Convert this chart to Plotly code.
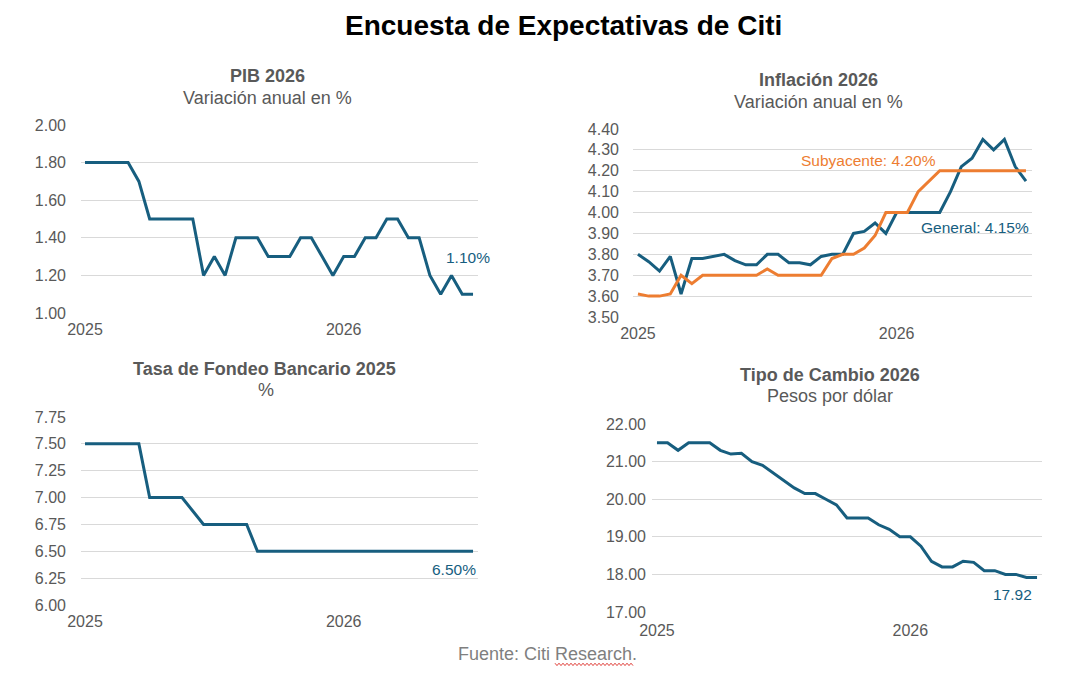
import plotly.graph_objects as go

W, H = 1081, 676

# ---------------- data (biweekly surveys, index 0 = first survey of 2025) ----------------
x_idx = list(range(37))
x_tickvals = [0, 24]
x_ticktext = ["2025", "2026"]

pib = [1.8, 1.8, 1.8, 1.8, 1.8, 1.7, 1.5, 1.5, 1.5, 1.5, 1.5, 1.2, 1.3, 1.2, 1.4, 1.4,
       1.4, 1.3, 1.3, 1.3, 1.4, 1.4, 1.3, 1.2, 1.3, 1.3, 1.4, 1.4, 1.5, 1.5, 1.4, 1.4,
       1.2, 1.1, 1.2, 1.1, 1.1]

infl_general = [3.80, 3.765, 3.72, 3.79, 3.61, 3.78, 3.78, 3.79, 3.80, 3.77, 3.75, 3.75,
                3.80, 3.80, 3.76, 3.76, 3.75, 3.79, 3.80, 3.80, 3.90, 3.91, 3.95, 3.90,
                4.00, 4.00, 4.00, 4.00, 4.00, 4.10, 4.22, 4.26, 4.35, 4.30, 4.35, 4.22, 4.15]

infl_subyacente = [3.61, 3.60, 3.60, 3.61, 3.70, 3.66, 3.70, 3.70, 3.70, 3.70, 3.70, 3.70,
                   3.73, 3.70, 3.70, 3.70, 3.70, 3.70, 3.78, 3.80, 3.80, 3.83, 3.89, 4.00,
                   4.00, 4.00, 4.10, 4.15, 4.20, 4.20, 4.20, 4.20, 4.20, 4.20, 4.20, 4.20, 4.20]

fondeo = [7.50, 7.50, 7.50, 7.50, 7.50, 7.50, 7.00, 7.00, 7.00, 7.00, 6.875, 6.75, 6.75,
          6.75, 6.75, 6.75, 6.50, 6.50, 6.50, 6.50, 6.50, 6.50, 6.50, 6.50, 6.50, 6.50,
          6.50, 6.50, 6.50, 6.50, 6.50, 6.50, 6.50, 6.50, 6.50, 6.50, 6.50]

tipo_cambio = [21.50, 21.50, 21.30, 21.50, 21.50, 21.50, 21.30, 21.20, 21.22, 21.00, 20.90,
               20.70, 20.50, 20.30, 20.15, 20.15, 20.00, 19.85, 19.50, 19.50, 19.50, 19.32,
               19.20, 19.00, 19.00, 18.75, 18.35, 18.20, 18.20, 18.35, 18.32, 18.10, 18.10,
               18.00, 18.00, 17.92, 17.92]

# ---------------- styling ----------------
BLUE = "#175E7F"
ORANGE = "#ED7D31"
GRAY_TXT = "#595959"
GRID = "#D9D9D9"
FONT = "Liberation Sans, Arial, sans-serif"


def px_x(p):
    return p / W


def px_y(p):
    return 1 - p / H


fig = go.Figure()

panels = [
    dict(box=(81, 478, 125, 313), xr=[-0.37, 36.46], yr=[1.0, 2.0], dt=0.2, std=14, xs=5),
    dict(box=(633, 1032, 129, 317), xr=[-0.46, 36.56], yr=[3.5, 4.4], dt=0.1, std=13, xs=5),
    dict(box=(81, 478, 417, 605), xr=[-0.37, 36.46], yr=[6.0, 7.75], dt=0.25, std=14, xs=5),
    dict(box=(652, 1042, 424, 612), xr=[-0.47, 36.47], yr=[17.0, 22.0], dt=1.0, std=5, xs=7),
]

series = [
    [(pib, BLUE)],
    [(infl_general, BLUE), (infl_subyacente, ORANGE)],
    [(fondeo, BLUE)],
    [(tipo_cambio, BLUE)],
]

layout_axes = {}
for i, (p, ss) in enumerate(zip(panels, series), start=1):
    xa = "x" if i == 1 else f"x{i}"
    ya = "y" if i == 1 else f"y{i}"
    for vals, col in ss:
        fig.add_trace(go.Scatter(x=x_idx, y=vals, mode="lines", xaxis=xa, yaxis=ya,
                                 line=dict(color=col, width=3), showlegend=False,
                                 hoverinfo="skip"))
    l, r, t, b = p["box"]
    xkey = "xaxis" if i == 1 else f"xaxis{i}"
    ykey = "yaxis" if i == 1 else f"yaxis{i}"
    layout_axes[xkey] = dict(domain=[px_x(l), px_x(r)], range=p["xr"], anchor=ya,
                             tickmode="array", tickvals=x_tickvals, ticktext=x_ticktext,
                             showgrid=False, zeroline=False, showline=False, ticks="",
                             ticklabelstandoff=p["xs"], automargin=False,
                             tickfont=dict(family=FONT, size=16, color=GRAY_TXT))
    layout_axes[ykey] = dict(domain=[px_y(b), px_y(t)], range=p["yr"], anchor=xa,
                             dtick=p["dt"], tick0=p["yr"][0], tickformat=".2f",
                             showgrid=True, gridcolor=GRID, gridwidth=1,
                             zeroline=False, showline=False, ticks="",
                             ticklabelstandoff=p["std"], automargin=False,
                             tickfont=dict(family=FONT, size=16, color=GRAY_TXT))

fig.update_layout(**layout_axes)

annotations = []


def add_text(text, x, y, size, color, bold=False):
    annotations.append(dict(text=f"<b>{text}</b>" if bold else text,
                            x=px_x(x), y=px_y(y), xref="paper", yref="paper",
                            xanchor="center", yanchor="middle", showarrow=False,
                            font=dict(family=FONT, size=size, color=color)))


add_text("Encuesta de Expectativas de Citi", 563, 26, 28, "#000000", bold=True)
add_text("PIB 2026", 267, 76, 18, GRAY_TXT, bold=True)
add_text("Variación anual en %", 267, 98, 18, GRAY_TXT)
add_text("Inflación 2026", 818, 80, 18, GRAY_TXT, bold=True)
add_text("Variación anual en %", 818, 102, 18, GRAY_TXT)
add_text("Tasa de Fondeo Bancario 2025", 264, 369, 18, GRAY_TXT, bold=True)
add_text("%", 266, 390, 18, GRAY_TXT)
add_text("Tipo de Cambio 2026", 830, 375, 18, GRAY_TXT, bold=True)
add_text("Pesos por dólar", 830, 396, 18, GRAY_TXT)

add_text("1.10%", 468, 257, 15.5, BLUE)
add_text("Subyacente: 4.20%", 868, 161, 15.5, ORANGE)
add_text("General: 4.15%", 975, 228, 15.5, BLUE)
add_text("6.50%", 454, 569, 15.5, BLUE)
add_text("17.92", 1012, 594, 15.5, BLUE)

add_text("Fuente: Citi Research.", 547, 654, 18, "#7F7F7F")

# spell-check style wavy underline under "Research" as seen in the source image
wave = []
xw = 555.0
k = 0
while xw <= 634:
    wave.append((xw, 663.2 if k % 2 == 0 else 665.6))
    xw += 2.0
    k += 1
path = "M " + " L ".join(f"{px_x(a):.5f},{px_y(b):.5f}" for a, b in wave)

fig.update_layout(
    width=W, height=H,
    margin=dict(l=0, r=0, t=0, b=0, autoexpand=False),
    paper_bgcolor="white", plot_bgcolor="white",
    annotations=annotations,
    shapes=[dict(type="path", path=path, xref="paper", yref="paper",
                 line=dict(color="#E0403A", width=1))],
    showlegend=False,
)

fig.write_html("out.html")
